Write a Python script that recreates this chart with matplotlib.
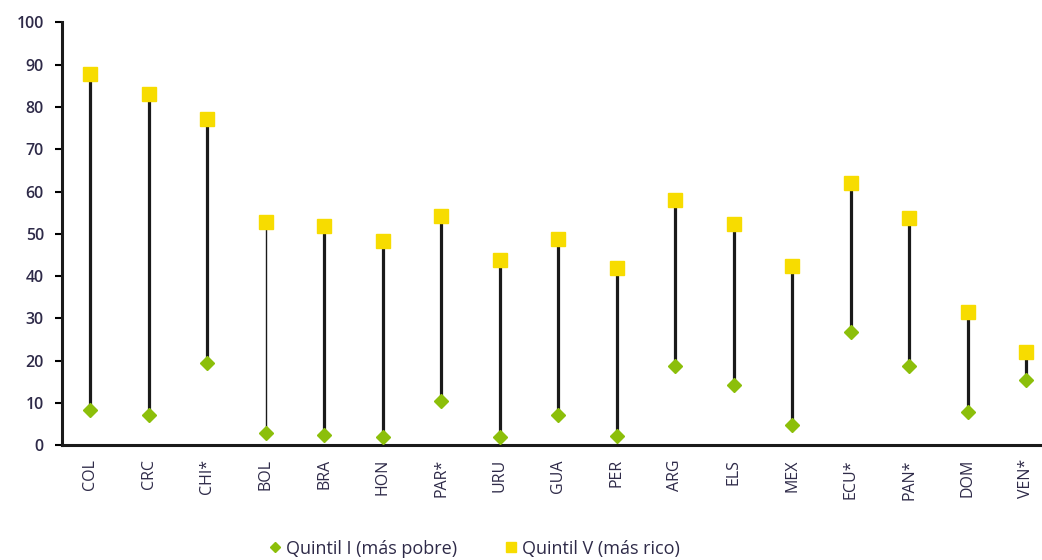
import matplotlib.pyplot as plt
from matplotlib.lines import Line2D

countries = ["COL", "CRC", "CHI*", "BOL", "BRA", "HON", "PAR*", "URU", "GUA",
             "PER", "ARG", "ELS", "MEX", "ECU*", "PAN*", "DOM", "VEN*"]
quintil_1 = [8.3, 7.1, 19.5, 2.9, 2.4, 1.9, 10.5, 1.9, 7.1,
             2.1, 18.8, 14.3, 4.8, 26.8, 18.8, 7.8, 15.4]
quintil_5 = [87.9, 83.1, 77.2, 52.7, 51.8, 48.2, 54.2, 43.7, 48.7,
             41.8, 58.0, 52.3, 42.3, 62.0, 53.7, 31.6, 22.1]
yticks = [0, 10, 20, 30, 40, 50, 60, 70, 80, 90, 100]

GREEN = "#8cbf0a"
YELLOW = "#f7dc00"
TXT = "#2e2a48"

plt.rcParams["font.family"] = ["Open Sans", "DejaVu Sans"]

fig = plt.figure(figsize=(10.42, 5.6), dpi=100)
ax = fig.add_axes([0.0595, 0.205, 0.9405, 0.755])

x = list(range(len(countries)))
widths = [2.3] * len(countries)
widths[3] = 1.0
ax.vlines(x, quintil_1, quintil_5, colors="#1a1a1a", linewidths=widths, zorder=2)
ax.plot(x, quintil_1, linestyle="none", marker="D", markersize=7,
        color=GREEN, zorder=3)
ax.plot(x, quintil_5, linestyle="none", marker="s", markersize=10.5,
        color=YELLOW, zorder=3)

ax.set_xlim(-0.48, 16.27)
ax.set_ylim(0, 100)
ax.set_yticks(yticks)
ax.set_xticks(x)
ax.set_xticklabels(countries, rotation=90, fontsize=11.5, color=TXT)
ax.tick_params(axis="x", length=0, pad=10)
ax.tick_params(axis="y", length=5, width=1.5, direction="out", pad=8,
               labelsize=11.5, labelcolor=TXT)
for lbl in ax.get_yticklabels():
    lbl.set_fontweight("semibold")

for s in ["top", "right"]:
    ax.spines[s].set_visible(False)
ax.spines["left"].set_linewidth(2.2)
ax.spines["bottom"].set_linewidth(2.2)
ax.spines["left"].set_color("#1a1a1a")
ax.spines["bottom"].set_color("#1a1a1a")

handles = [
    Line2D([], [], linestyle="none", marker="D", markersize=5.5, color=GREEN,
           label="Quintil I (más pobre)"),
    Line2D([], [], linestyle="none", marker="s", markersize=7.5, color=YELLOW,
           label="Quintil V (más rico)"),
]
leg = fig.legend(handles=handles, loc="center", bbox_to_anchor=(0.455, 0.02),
                 ncol=2, frameon=False, fontsize=13, handletextpad=0.2,
                 columnspacing=2.6, handlelength=0.8)
for t in leg.get_texts():
    t.set_color(TXT)

fig.savefig("out.png", dpi=100)
